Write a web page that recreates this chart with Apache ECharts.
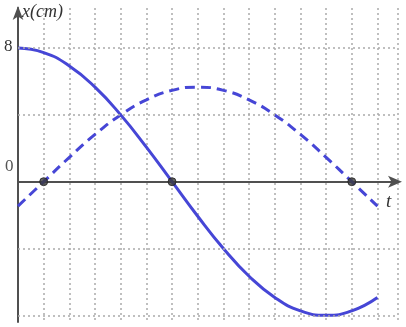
<!DOCTYPE html>
<html>
<head>
<meta charset="utf-8">
<script src="https://cdn.jsdelivr.net/npm/echarts@6/dist/echarts.min.js"></script>
<style>html,body{margin:0;padding:0;background:#fff;}#c{width:406px;height:327px;}</style>
</head>
<body>
<div id="c"></div>
<script>
var tValues = [0,1,2,3,4,5,6,7,8,9,10,11,12,13,14];
var solidX = [8,7.73,6.93,5.66,4,2.07,0,-2.07,-4,-5.66,-6.93,-7.73,-8,-7.73,-6.93];
var dashedX = [-1.46,0,1.46,2.83,4,4.9,5.47,5.66,5.47,4.9,4,2.83,1.46,0,-1.46];
var zeroPoints = [[1,0],[6,0],[13,0]];
var gridValues = [-8,-4,4,8];
var yTickLabels = ['8','0'];

var chart = echarts.init(document.getElementById('c'), null, {renderer:'canvas'});
var blue = '#4646d6';
var option = {
  animation:false,
  grid:{left:18,right:8,top:8,bottom:5,containLabel:false},
  xAxis:{type:'value',min:0,max:14.8,interval:1,
    axisLine:{onZero:true,lineStyle:{color:'#505050',width:2},symbol:['none','arrow'],symbolSize:[9,14],symbolOffset:[0,4]},
    axisTick:{show:false},axisLabel:{show:false},
    splitLine:{show:true,lineStyle:{type:[2,3],color:'#aaaaaa',width:1.5}}},
  yAxis:{type:'value',min:-8.4,max:10.4,
    axisLine:{show:true,onZero:true,lineStyle:{color:'#505050',width:2},symbol:['none','arrow'],symbolSize:[8,14],symbolOffset:[0,2]},
    axisTick:{show:false},axisLabel:{show:false},splitLine:{show:false}},
  series:[
    {type:'line',data:tValues.map(function(t,i){return [t,solidX[i]];}),smooth:true,showSymbol:false,
     lineStyle:{color:blue,width:3},z:3,
     markLine:{silent:true,symbol:'none',label:{show:false},
       lineStyle:{type:[2,3],color:'#aaaaaa',width:1.5},
       data:gridValues.map(function(v){return {yAxis:v};})}},
    {type:'line',data:tValues.map(function(t,i){return [t,dashedX[i]];}),smooth:true,showSymbol:false,
     lineStyle:{color:blue,width:3,type:[10,6]},z:3},
    {type:'scatter',data:zeroPoints,symbolSize:8,itemStyle:{color:'#3a3a3a',borderColor:'#222',borderWidth:1},z:5}
  ],
  graphic:[
    {type:'text',left:22,top:3,style:{text:'x(cm)',font:'italic 18px "Liberation Serif"',fill:'#333'}},
    {type:'text',left:4,top:38,style:{text:yTickLabels[0],font:'17px "Liberation Serif"',fill:'#333'}},
    {type:'text',left:5,top:158,style:{text:yTickLabels[1],font:'17px "Liberation Serif"',fill:'#555'}},
    {type:'text',left:386,top:192,style:{text:'t',font:'italic 19px "Liberation Serif"',fill:'#333'}}
  ]
};
chart.setOption(option);
</script>
</body>
</html>
